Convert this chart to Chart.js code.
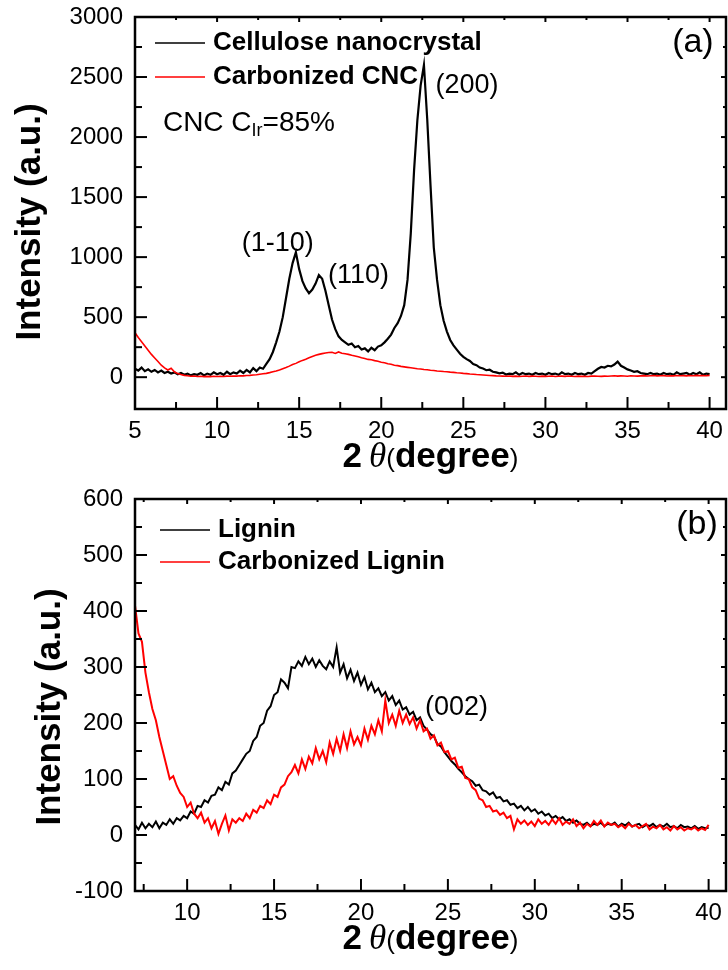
<!DOCTYPE html>
<html><head><meta charset="utf-8">
<script src="https://cdn.jsdelivr.net/npm/chart.js@4.4.1/dist/chart.umd.min.js"></script>
<style>
html,body{margin:0;padding:0;background:#fff;width:728px;height:970px;overflow:hidden}
#wa{position:absolute;left:0;top:0;width:728px;height:480px}
#wb{position:absolute;left:0;top:480px;width:728px;height:490px}
</style></head><body>
<div id="wa"><canvas id="ca"></canvas></div>
<div id="wb"><canvas id="cb"></canvas></div>
<script>
// ---------- Panel (a): cellulose nanocrystal ----------
const twoThetaA = [
5.0,5.2,5.4,5.6,5.8,6.0,6.2,6.4,6.6,6.8,
7.0,7.2,7.4,7.6,7.8,8.0,8.2,8.4,8.6,8.8,
9.0,9.2,9.4,9.6,9.8,10.0,10.2,10.4,10.6,10.8,
11.0,11.2,11.4,11.6,11.8,12.0,12.2,12.4,12.6,12.8,
13.0,13.2,13.4,13.6,13.8,14.0,14.2,14.4,14.6,14.8,
15.0,15.2,15.4,15.6,15.8,16.0,16.2,16.4,16.6,16.8,
17.0,17.2,17.4,17.6,17.8,18.0,18.2,18.4,18.6,18.8,
19.0,19.2,19.4,19.6,19.8,20.0,20.2,20.4,20.6,20.8,
21.0,21.2,21.4,21.6,21.8,22.0,22.2,22.4,22.6,22.8,
23.0,23.2,23.4,23.6,23.8,24.0,24.2,24.4,24.6,24.8,
25.0,25.2,25.4,25.6,25.8,26.0,26.2,26.4,26.6,26.8,
27.0,27.2,27.4,27.6,27.8,28.0,28.2,28.4,28.6,28.8,
29.0,29.2,29.4,29.6,29.8,30.0,30.2,30.4,30.6,30.8,
31.0,31.2,31.4,31.6,31.8,32.0,32.2,32.4,32.6,32.8,
33.0,33.2,33.4,33.6,33.8,34.0,34.2,34.4,34.6,34.8,
35.0,35.2,35.4,35.6,35.8,36.0,36.2,36.4,36.6,36.8,
37.0,37.2,37.4,37.6,37.8,38.0,38.2,38.4,38.6,38.8,
39.0,39.2,39.4,39.6,39.8,40.0];
const cncIntensity = [
70,55,80,50,65,45,60,40,55,35,
45,30,40,25,35,20,30,15,25,20,
35,15,30,20,40,25,35,20,45,25,
40,30,55,35,60,40,75,50,80,70,
110,150,210,290,380,500,660,820,950,1040,
900,800,740,700,730,780,850,820,720,600,
480,400,340,310,290,270,280,250,260,230,
240,215,245,225,255,265,290,320,355,410,
450,510,600,810,1200,1725,2140,2430,2600,2150,
1600,1080,810,600,470,380,310,265,230,195,
170,150,135,110,100,80,72,58,62,45,
40,32,38,22,30,25,40,20,35,25,
30,20,35,25,30,20,35,25,30,20,
40,25,30,20,35,25,30,20,35,30,
50,70,85,80,95,90,105,130,95,80,
65,55,45,50,35,30,25,35,25,30,
20,35,25,30,20,40,25,30,35,20,
35,25,40,20,30,25];
const carbCncIntensity = [
370,330,295,260,225,190,160,130,100,78,
60,75,45,30,22,15,12,8,10,6,
8,5,7,5,8,6,8,6,9,8,
10,9,12,11,14,15,18,20,24,28,
32,38,45,52,60,70,80,92,105,115,
128,140,150,162,172,182,190,196,202,205,
208,198,210,200,195,190,182,176,170,162,
155,148,145,138,133,125,120,112,108,100,
96,90,86,82,78,74,70,68,64,62,
58,56,52,50,47,45,42,40,37,35,
32,30,27,25,22,20,18,16,14,13,
11,10,9,8,10,7,9,6,8,10,
7,9,8,6,9,7,8,10,6,8,
9,7,10,8,6,9,7,8,6,9,
10,8,7,9,8,10,12,9,11,10,
8,12,10,9,11,13,10,12,14,11,
12,13,10,12,11,14,12,13,11,14,
12,15,13,14,12,15];
const xTicksA = [5,10,15,20,25,30,35,40];
const xMinorA = [7.5,12.5,17.5,22.5,27.5,32.5,37.5];
const yTicksA = [0,500,1000,1500,2000,2500,3000];
const yMinorA = [250,750,1250,1750,2250,2750];

// ---------- Panel (b): lignin ----------
const twoThetaB = [
7.0,7.2,7.4,7.6,7.8,8.0,8.2,8.4,8.6,8.8,
9.0,9.2,9.4,9.6,9.8,10.0,10.2,10.4,10.6,10.8,
11.0,11.2,11.4,11.6,11.8,12.0,12.2,12.4,12.6,12.8,
13.0,13.2,13.4,13.6,13.8,14.0,14.2,14.4,14.6,14.8,
15.0,15.2,15.4,15.6,15.8,16.0,16.2,16.4,16.6,16.8,
17.0,17.2,17.4,17.6,17.8,18.0,18.2,18.4,18.6,18.8,
19.0,19.2,19.4,19.6,19.8,20.0,20.2,20.4,20.6,20.8,
21.0,21.2,21.4,21.6,21.8,22.0,22.2,22.4,22.6,22.8,
23.0,23.2,23.4,23.6,23.8,24.0,24.2,24.4,24.6,24.8,
25.0,25.2,25.4,25.6,25.8,26.0,26.2,26.4,26.6,26.8,
27.0,27.2,27.4,27.6,27.8,28.0,28.2,28.4,28.6,28.8,
29.0,29.2,29.4,29.6,29.8,30.0,30.2,30.4,30.6,30.8,
31.0,31.2,31.4,31.6,31.8,32.0,32.2,32.4,32.6,32.8,
33.0,33.2,33.4,33.6,33.8,34.0,34.2,34.4,34.6,34.8,
35.0,35.2,35.4,35.6,35.8,36.0,36.2,36.4,36.6,36.8,
37.0,37.2,37.4,37.6,37.8,38.0,38.2,38.4,38.6,38.8,
39.0,39.2,39.4,39.6,39.8,40.0];
const ligninIntensity = [
18,10,22,12,20,14,24,12,22,18,
28,20,30,26,34,30,42,38,52,50,
62,58,70,72,85,80,95,90,110,115,
125,135,145,150,168,175,195,200,222,230,
250,255,278,272,262,300,298,310,302,318,
305,315,300,312,302,296,310,300,335,290,
305,280,295,275,290,268,282,260,272,255,
262,248,255,240,248,232,240,224,228,215,
220,205,210,195,188,180,176,162,158,148,
140,132,126,118,112,105,100,96,88,90,
80,78,72,76,66,68,60,62,54,56,
48,52,44,50,42,46,38,42,35,38,
30,34,28,32,25,28,22,26,20,18,
22,16,20,18,22,16,20,18,22,15,
20,17,22,15,18,20,14,18,16,20,
14,18,15,20,14,16,12,18,14,15,
12,16,11,14,12,13];
const carbLigninIntensity = [
410,360,345,290,255,225,205,175,150,125,
100,105,88,75,68,50,58,38,30,40,
22,30,12,25,2,20,35,8,28,22,
30,25,38,30,45,40,52,48,62,55,
72,68,85,90,105,112,125,110,135,118,
140,128,155,135,150,130,165,145,172,150,
180,155,185,162,175,160,190,170,195,180,
205,185,240,200,215,195,222,200,215,198,
210,190,205,185,190,172,178,160,165,148,
150,135,138,120,122,102,100,85,80,65,
62,50,52,42,44,36,40,30,34,10,
28,20,26,18,24,16,28,20,25,18,
28,20,30,18,24,20,28,16,22,12,
20,15,25,18,26,15,22,18,20,14,
18,12,20,15,18,12,16,20,10,15,
12,18,10,14,8,16,10,14,8,12,
10,14,8,12,9,18];
const xTicksB = [10,15,20,25,30,35,40];
const xMinorB = [7.5,12.5,17.5,22.5,27.5,32.5,37.5];
const yTicksB = [-100,0,100,200,300,400,500,600];
const yMinorB = [-50,50,150,250,350,450,550];

const SANS = '"Liberation Sans", Arial, Helvetica, sans-serif';
const SERIF = '"Liberation Serif", "Times New Roman", serif';
Chart.defaults.font.family = SANS;
Chart.defaults.color = '#000';

const decor = {
  id: 'decor',
  afterDraw(chart, args, o) {
    const ctx = chart.ctx, a = chart.chartArea, xs = chart.scales.x, ys = chart.scales.y;
    const line = (x1, y1, x2, y2) => { ctx.beginPath(); ctx.moveTo(x1, y1); ctx.lineTo(x2, y2); ctx.stroke(); };
    ctx.save();
    ctx.strokeStyle = '#000'; ctx.lineCap = 'butt'; ctx.lineWidth = 2;
    o.xMajor.forEach(v => { const p = xs.getPixelForValue(v); line(p, a.bottom, p, a.bottom - 12); line(p, a.top, p, a.top + 5); });
    o.xMinor.forEach(v => { const p = xs.getPixelForValue(v); line(p, a.bottom, p, a.bottom - 7); line(p, a.top, p, a.top + 3); });
    o.yMajor.forEach(v => { const p = ys.getPixelForValue(v); line(a.left, p, a.left + 12, p); line(a.right, p, a.right - 5, p); });
    o.yMinor.forEach(v => { const p = ys.getPixelForValue(v); line(a.left, p, a.left + 7, p); line(a.right, p, a.right - 3, p); });
    ctx.lineWidth = 2.5;
    ctx.strokeRect(a.left, a.top, a.right - a.left, a.bottom - a.top);
    // legend
    const L = o.legend;
    chart.data.datasets.forEach((ds, i) => {
      const yy = a.top + L.y0 + i * L.dy;
      ctx.strokeStyle = ds.borderColor; ctx.lineWidth = 1.5;
      line(a.left + L.x0, yy, a.left + L.x1, yy);
      ctx.fillStyle = '#000'; ctx.font = 'bold 26px ' + SANS;
      ctx.textAlign = 'left'; ctx.textBaseline = 'middle';
      ctx.fillText(ds.label, a.left + L.tx, yy);
    });
    // notes
    ctx.fillStyle = '#000'; ctx.textBaseline = 'middle';
    o.notes.forEach(n => {
      ctx.font = n.font; ctx.textAlign = n.align || 'left';
      let x = xs.getPixelForValue(n.x); const y = ys.getPixelForValue(n.y);
      if (n.sub) {
        ctx.textAlign = 'left';
        ctx.fillText(n.text, x, y); x += ctx.measureText(n.text).width;
        ctx.font = n.subFont; ctx.fillText(n.sub, x, y + n.subDy); x += ctx.measureText(n.sub).width;
        ctx.font = n.font; ctx.fillText(n.after, x, y);
      } else {
        ctx.fillText(n.text, x, y);
      }
    });
    // y title
    ctx.save();
    ctx.translate(o.yTitle.x, o.yTitle.y); ctx.rotate(-Math.PI / 2);
    ctx.font = 'bold 35px ' + SANS; ctx.textAlign = 'center'; ctx.textBaseline = 'middle';
    ctx.fillText('Intensity (a.u.)', 0, 0);
    ctx.restore();
    // x title
    const parts = [
      { t: '2', f: 'bold 35px ' + SANS },
      { t: '\u2009', f: '35px ' + SANS },
      { t: '\u03B8', f: 'italic 35px ' + SERIF },
      { t: '(', f: '26px ' + SANS },
      { t: 'degree', f: 'bold 35px ' + SANS },
      { t: ')', f: '26px ' + SANS }
    ];
    let w = 0;
    parts.forEach(p => { ctx.font = p.f; p.w = ctx.measureText(p.t).width; w += p.w; });
    let x = (a.left + a.right) / 2 - w / 2;
    const by = a.bottom + o.xTitleDy;
    ctx.textAlign = 'left'; ctx.textBaseline = 'alphabetic';
    parts.forEach(p => { ctx.font = p.f; ctx.fillText(p.t, x, by); x += p.w; });
    ctx.restore();
  }
};

function xScale(min, max, ticks, h, pad) {
  return {
    type: 'linear', min: min, max: max,
    afterBuildTicks: sc => { sc.ticks = ticks.map(v => ({ value: v })); },
    afterFit: sc => { sc.height = h; sc.paddingLeft = 0; sc.paddingRight = 0; sc.paddingTop = 0; sc.paddingBottom = 0; },
    ticks: { font: { size: 24 }, color: '#000', padding: pad, maxRotation: 0, autoSkip: false, callback: v => String(v) },
    grid: { display: false, drawTicks: false }, border: { display: false }
  };
}
function yScale(min, max, ticks) {
  return {
    type: 'linear', min: min, max: max,
    afterBuildTicks: sc => { sc.ticks = ticks.map(v => ({ value: v })); },
    afterFit: sc => { sc.width = 135; sc.paddingLeft = 0; sc.paddingRight = 0; sc.paddingTop = 0; sc.paddingBottom = 0; },
    ticks: { font: { size: 24 }, color: '#000', padding: 12, autoSkip: false, callback: v => String(v) },
    grid: { display: false, drawTicks: false }, border: { display: false }
  };
}
const pts = (xs, ys) => xs.map((x, i) => ({ x: x, y: ys[i] }));

new Chart(document.getElementById('ca'), {
  type: 'line',
  data: { datasets: [
    { label: 'Cellulose nanocrystal', data: pts(twoThetaA, cncIntensity), borderColor: '#000000', borderWidth: 2.2, pointRadius: 0, tension: 0, order: 1 },
    { label: 'Carbonized CNC', data: pts(twoThetaA, carbCncIntensity), borderColor: '#ff0000', borderWidth: 1.6, pointRadius: 0, tension: 0, order: 0 }
  ] },
  options: {
    responsive: true, maintainAspectRatio: false, animation: false, devicePixelRatio: 1,
    layout: { padding: { top: 17, right: 2, left: 0, bottom: 0 } },
    scales: { x: xScale(5, 41, xTicksA, 71, 8), y: yScale(-265, 3000, yTicksA) },
    plugins: {
      legend: { display: false }, tooltip: { enabled: false },
      decor: {
        xMajor: xTicksA, xMinor: xMinorA, yMajor: yTicksA, yMinor: yMinorA,
        legend: { x0: 20, x1: 70, tx: 78, y0: 26, dy: 34 },
        notes: [
          { text: '(1-10)', x: 11.5, y: 1117, font: '27px ' + SANS },
          { text: '(110)', x: 16.75, y: 850, font: '27px ' + SANS },
          { text: '(200)', x: 23.3, y: 2433, font: '27px ' + SANS },
          { text: 'CNC C', sub: 'Ir', after: '=85%', subFont: '18px ' + SANS, subDy: 8, x: 6.7, y: 2117, font: '28px ' + SANS },
          { text: '(a)', x: 40.25, y: 2783, font: '34px ' + SANS, align: 'right' }
        ],
        yTitle: { x: 30, y: 222 }, xTitleDy: 58
      }
    }
  },
  plugins: [decor]
});

new Chart(document.getElementById('cb'), {
  type: 'line',
  data: { datasets: [
    { label: 'Lignin', data: pts(twoThetaB, ligninIntensity), borderColor: '#000000', borderWidth: 2, pointRadius: 0, tension: 0, order: 1 },
    { label: 'Carbonized Lignin', data: pts(twoThetaB, carbLigninIntensity), borderColor: '#ff0000', borderWidth: 2, pointRadius: 0, tension: 0, order: 0 }
  ] },
  options: {
    responsive: true, maintainAspectRatio: false, animation: false, devicePixelRatio: 1,
    layout: { padding: { top: 19, right: 2, left: 0, bottom: 0 } },
    scales: { x: xScale(7, 41, xTicksB, 79, 8), y: yScale(-100, 600, yTicksB) },
    plugins: {
      legend: { display: false }, tooltip: { enabled: false },
      decor: {
        xMajor: xTicksB, xMinor: xMinorB, yMajor: yTicksB, yMinor: yMinorB,
        legend: { x0: 25, x1: 75, tx: 83, y0: 31, dy: 32 },
        notes: [
          { text: '(002)', x: 23.68, y: 227, font: '27px ' + SANS },
          { text: '(b)', x: 40.53, y: 555, font: '34px ' + SANS, align: 'right' }
        ],
        yTitle: { x: 50, y: 227 }, xTitleDy: 58
      }
    }
  },
  plugins: [decor]
});
</script>
</body></html>
